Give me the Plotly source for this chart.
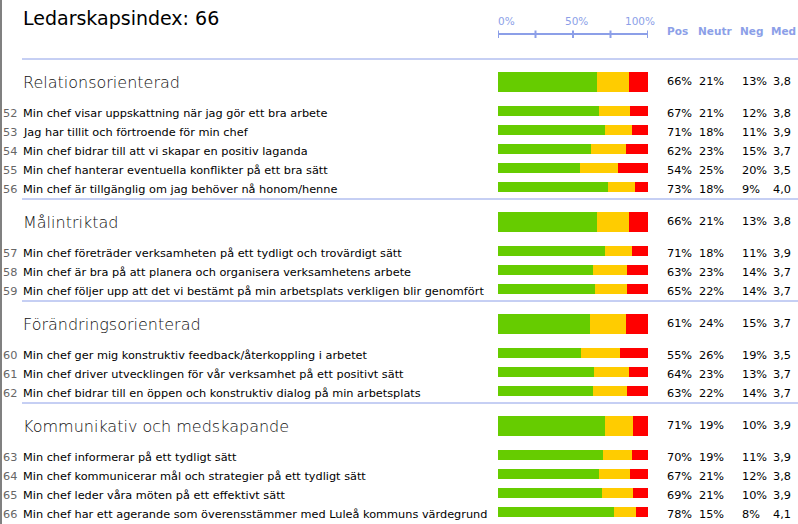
import plotly.graph_objects as go

# ---------------- data ----------------
title_text = "Ledarskapsindex: 66"
headers = ["Pos", "Neutr", "Neg", "Med"]
axis_ticks = [0, 25, 50, 75, 100]
axis_labels = ["0%", "50%", "100%"]

sections = ["Relationsorienterad", "Målintriktad", "Förändringsorienterad",
            "Kommunikativ och medskapande"]
section_pos = [66, 66, 61, 71]
section_neu = [21, 21, 24, 19]
section_neg = [13, 13, 15, 10]
section_med = ["3,8", "3,8", "3,7", "3,9"]
section_sizes = [5, 3, 3, 4]

item_nums = ["52", "53", "54", "55", "56", "57", "58", "59", "60", "61", "62",
             "63", "64", "65", "66"]
item_texts = [
    "Min chef visar uppskattning när jag gör ett bra arbete",
    "Jag har tillit och förtroende för min chef",
    "Min chef bidrar till att vi skapar en positiv laganda",
    "Min chef hanterar eventuella konflikter på ett bra sätt",
    "Min chef är tillgänglig om jag behöver nå honom/henne",
    "Min chef företräder verksamheten på ett tydligt och trovärdigt sätt",
    "Min chef är bra på att planera och organisera verksamhetens arbete",
    "Min chef följer upp att det vi bestämt på min arbetsplats verkligen blir genomfört",
    "Min chef ger mig konstruktiv feedback/återkoppling i arbetet",
    "Min chef driver utvecklingen för vår verksamhet på ett positivt sätt",
    "Min chef bidrar till en öppen och konstruktiv dialog på min arbetsplats",
    "Min chef informerar på ett tydligt sätt",
    "Min chef kommunicerar mål och strategier på ett tydligt sätt",
    "Min chef leder våra möten på ett effektivt sätt",
    "Min chef har ett agerande som överensstämmer med Luleå kommuns värdegrund",
]
item_pos = [67, 71, 62, 54, 73, 71, 63, 65, 55, 64, 63, 70, 67, 69, 78]
item_neu = [21, 18, 23, 25, 18, 18, 23, 22, 26, 23, 22, 19, 21, 21, 15]
item_neg = [12, 11, 15, 20, 9, 11, 14, 14, 19, 13, 14, 11, 12, 10, 8]
item_med = ["3,8", "3,9", "3,7", "3,5", "4,0", "3,9", "3,7", "3,7", "3,5",
            "3,7", "3,7", "3,9", "3,8", "3,9", "4,1"]

# ---------------- style ----------------
W, H = 798, 524
GREEN, YELLOW, RED = "#66cc00", "#ffcc00", "#ff0000"
BLUE = "#8c9fe8"
FONT = "DejaVu Sans"
BAR_X0, BAR_X1 = 498, 648
COLS = [667, 699, 741.5, 773]
HEAD_COLS = [667, 698, 740, 771]
PAD = 2  # annotation inner padding compensation


def px(x):
    return x / W


# ---------------- layout of rows ----------------
rows = []  # (kind, index, y_center)
y = 59
separators = [59]
k = 0
for s, n in enumerate(section_sizes):
    sc = y + 23
    rows.append(("sec", s, sc))
    last = sc
    for j in range(n):
        last = sc + 29 + 19 * j
        rows.append(("item", k, last))
        k += 1
    y = last + 12
    if s < len(section_sizes) - 1:
        separators.append(y)

ys, widths, pos_v, neu_v, neg_v = [], [], [], [], []
for kind, i, yc in rows:
    if kind == "sec":
        p, nn, ng = section_pos[i], section_neu[i], section_neg[i]
        widths.append(20)
    else:
        p, nn, ng = item_pos[i], item_neu[i], item_neg[i]
        widths.append(10)
    tot = p + nn + ng
    ys.append(yc)
    pos_v.append(p / tot * 100)
    neu_v.append(nn / tot * 100)
    neg_v.append(ng / tot * 100)

fig = go.Figure()
base_neu = pos_v
base_neg = [a + b for a, b in zip(pos_v, neu_v)]
for vals, base, col in [(pos_v, [0] * len(pos_v), GREEN),
                        (neu_v, base_neu, YELLOW),
                        (neg_v, base_neg, RED)]:
    fig.add_trace(go.Bar(orientation="h", y=ys, x=vals, base=base,
                         width=widths, marker=dict(color=col, line=dict(width=0)),
                         hoverinfo="skip", showlegend=False))

ann = []
shapes = []


def txt(x, y, t, size, color="black", weight="normal", xref="paper", xanchor="left",
        xshift=None):
    if xshift is None:
        xshift = -PAD if xanchor == "left" else 0
    ann.append(dict(x=x, y=y, xref=xref, yref="y", text=t, showarrow=False,
                    xanchor=xanchor, yanchor="middle", xshift=xshift,
                    font=dict(family=FONT, size=size, color=color, weight=weight)))


# title
txt(px(23), 18, title_text, 19)
# axis labels + headers
txt(0, 21, axis_labels[0], 10.5, BLUE, xref="x")
txt(px(576), 21, axis_labels[1], 10.5, BLUE, xanchor="center")
txt(px(640), 21, axis_labels[2], 10.5, BLUE, xanchor="center")
for h, cx in zip(headers, HEAD_COLS):
    txt(px(cx), 31, h, 10.5, BLUE, weight="bold")
# axis line and ticks
shapes.append(dict(type="line", xref="x", yref="y", x0=axis_ticks[0], x1=axis_ticks[-1],
                   y0=34, y1=34, line=dict(color=BLUE, width=2)))
for t in axis_ticks:
    shapes.append(dict(type="line", xref="x", yref="y", x0=t, x1=t, y0=30.5, y1=38,
                       line=dict(color=BLUE, width=2)))
# separators
for sy in separators:
    shapes.append(dict(type="line", xref="paper", yref="y", x0=px(22), x1=1,
                       y0=sy, y1=sy, line=dict(color=BLUE, width=1)))
# left border
shapes.append(dict(type="line", xref="paper", yref="paper", x0=px(1), x1=px(1),
                   y0=0, y1=1, line=dict(color="#808080", width=2)))

for kind, i, yc in rows:
    if kind == "sec":
        txt(px(23), yc + 0.5, sections[i], 16, "#111111", weight=300)
        vals = [f"{section_pos[i]}%", f"{section_neu[i]}%", f"{section_neg[i]}%", section_med[i]]
        for v, cx in zip(vals, COLS):
            txt(px(cx), yc - 1, v, 11.3)
    else:
        txt(px(3), yc + 2, item_nums[i], 11.3, "#666666")
        txt(px(23), yc + 2, item_texts[i], 11.3)
        vals = [f"{item_pos[i]}%", f"{item_neu[i]}%", f"{item_neg[i]}%", item_med[i]]
        for v, cx in zip(vals, COLS):
            txt(px(cx), yc + 2, v, 11.3)

fig.update_layout(
    width=W, height=H, margin=dict(l=0, r=0, t=0, b=0),
    paper_bgcolor="white", plot_bgcolor="white",
    barmode="overlay", bargap=0,
    xaxis=dict(domain=[px(BAR_X0), px(BAR_X1)], range=[0, 100], visible=False,
               fixedrange=True),
    yaxis=dict(domain=[0, 1], range=[H, 0], visible=False, fixedrange=True),
    annotations=ann, shapes=shapes,
)
fig.write_html("out.html", config={"displayModeBar": False})
